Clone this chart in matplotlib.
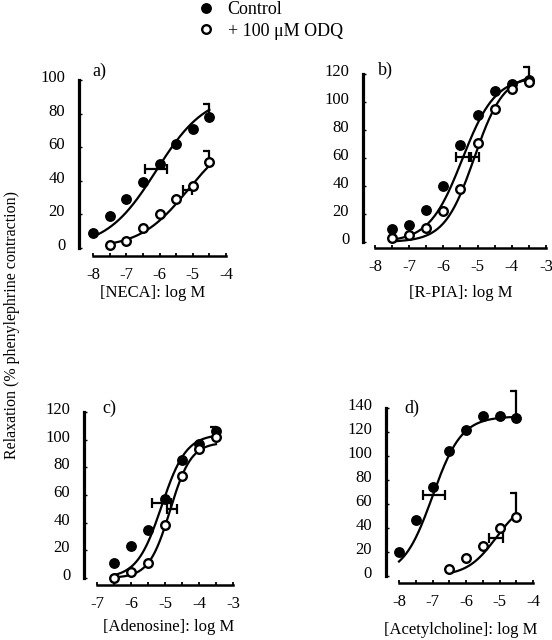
import numpy as np
import matplotlib
matplotlib.use('Agg')
import matplotlib.pyplot as plt
from matplotlib.lines import Line2D
from matplotlib.transforms import ScaledTranslation

plt.rcParams['font.family'] = ['Liberation Serif', 'DejaVu Serif']
plt.rcParams['axes.unicode_minus'] = False

# --- data ---
# a) NECA
neca_x = [-8, -7.5, -7, -6.5, -6, -5.5, -5, -4.5]
neca_ctrl = [9, 19, 29, 39, 50, 62, 71, 78]
neca_odq_x = [-7.5, -7, -6.5, -6, -5.5, -5, -4.5]
neca_odq = [2, 4, 12, 20, 29, 37, 51]
neca_err_top = [86, 58]                  # control, ODQ (last point)
neca_ec50 = [(-6.1, 0.33, 47), (-5.15, 0.14, 34.5)]
neca_fit = [(92, -6.1, 0.58), (69, -5.15, 0.6)]  # top, logEC50, hill

# b) R-PIA
rpia_x = [-7.5, -7, -6.5, -6, -5.5, -5, -4.5, -4, -3.5]
rpia_ctrl = [9, 12, 23, 40, 69, 91, 108, 113, 116]
rpia_odq = [3, 5, 10, 22, 38, 71, 95, 109, 114]
rpia_err_top = [125, None]
rpia_ec50 = [(-5.43, 0.19, 61), (-5.07, 0.12, 61)]
rpia_fit = [(118, -5.45, 0.9), (120, -5.1, 1.0)]

# c) Adenosine
ado_x = [-6.5, -6, -5.5, -5, -4.5, -4, -3.5]
ado_ctrl = [11, 23, 35, 57, 85, 97, 106]
ado_odq = [0, 4, 11, 38, 74, 93, 102]
ado_err_top = [109, None]
ado_ec50 = [(-5.1, 0.28, 54.5), (-4.8, 0.14, 50)]
ado_fit = [(104, -5.1, 1.2), (98, -4.85, 1.4)]

# d) Acetylcholine
ach_x = [-8, -7.5, -7, -6.5, -6, -5.5, -5, -4.5]
ach_ctrl = [20, 47, 74, 104, 122, 133, 133, 132]
ach_odq_x = [-6.5, -6, -5.5, -5, -4.5]
ach_odq = [6, 15, 25, 40, 49]
ach_err_top = [154, 69]
ach_ec50 = [(-6.95, 0.32, 67.5), (-5.1, 0.21, 32)]
ach_fit = [(133, -7.0, 1.0), (64, -5.1, 1.0)]

panel_labels = ['a)', 'b)', 'c)', 'd)']
x_labels = ['[NECA]: log M', '[R-PIA]: log M', '[Adenosine]: log M', '[Acetylcholine]: log M']
y_max = [100, 120, 120, 140]
x_bounds = [(-8, -4), (-8, -3), (-7, -3), (-8, -4)]

panels = [
    (neca_x, neca_ctrl, neca_odq_x, neca_odq, neca_err_top, neca_ec50, neca_fit),
    (rpia_x, rpia_ctrl, rpia_x, rpia_odq, rpia_err_top, rpia_ec50, rpia_fit),
    (ado_x, ado_ctrl, ado_x, ado_odq, ado_err_top, ado_ec50, ado_fit),
    (ach_x, ach_ctrl, ach_odq_x, ach_odq, ach_err_top, ach_ec50, ach_fit),
]

# pixel layout: x ref value, its pixel, px per unit, y=0 pixel, px per unit,
# y-spine x (data), x-spine y (data), xlabel centre/y in px, panel label px
W, H = 552, 640
layout = [
    (-8, 93, 33.25, 248, 1.68, -8.42, -4.8, 153, 293, (92, 71)),
    (-8, 375, 34.2, 242, 1.40, -8.35, -4.3, 461, 293, (378, 70)),
    (-7, 97, 34.0, 578, 1.383, -7.38, -5.1, 169, 627, (102, 408)),
    (-8, 399, 33.5, 576, 1.20, -8.39, -5.8, 461, 630, (404, 408)),
]

fig = plt.figure(figsize=(W / 100, H / 100), dpi=100)
label_shift = ScaledTranslation(0, 4 / 100, fig.dpi_scale_trans)


def hill(x, top, ec50, n):
    return top / (1 + 10 ** (n * (ec50 - x)))


for i, (data, lay) in enumerate(zip(panels, layout)):
    cx, cy, ox, oy, err_top, ec50, fit = data
    xref, pxref, sx, py0, sy, yspine_x, xspine_y, xl_cx, xl_y, lab = lay
    xlim = (x_bounds[i][0] - 0.7, x_bounds[i][1] + 0.25)
    ylim = (-12, y_max[i] * 1.15)
    left = pxref + (xlim[0] - xref) * sx
    right = pxref + (xlim[1] - xref) * sx
    bottom = py0 - ylim[0] * sy
    top = py0 - ylim[1] * sy
    ax = fig.add_axes([left / W, 1 - bottom / H, (right - left) / W, (bottom - top) / H])
    ax.set_xlim(xlim)
    ax.set_ylim(ylim)
    ax.patch.set_alpha(0)

    for s in ['top', 'right']:
        ax.spines[s].set_visible(False)
    ax.spines['left'].set_position(('data', yspine_x))
    ax.spines['left'].set_bounds(0, y_max[i])
    ax.spines['left'].set_linewidth(2.3)
    ax.spines['bottom'].set_position(('data', xspine_y))
    ax.spines['bottom'].set_bounds(*x_bounds[i])
    ax.spines['bottom'].set_linewidth(1.8)

    ax.set_yticks(np.arange(0, y_max[i] + 1, 20))
    ax.set_xticks(np.arange(x_bounds[i][0], x_bounds[i][1] + 0.5, 1))
    ax.set_xticks(np.arange(x_bounds[i][0], x_bounds[i][1] + 0.25, 0.5), minor=True)
    ax.tick_params(axis='y', direction='in', length=2.5, width=1, pad=10, labelsize=12)
    ax.tick_params(axis='x', which='both', direction='in', length=2.5, width=1.3, pad=8, labelsize=12)
    for t in ax.get_yticklabels():
        t.set_transform(t.get_transform() + label_shift)

    # fitted curves
    for xs, f in [(cx, fit[0]), (ox, fit[1])]:
        xx = np.linspace(xs[0], xs[-1], 200)
        ax.plot(xx, hill(xx, *f), color='black', lw=1.6, zorder=2, clip_on=False)

    # SEM of last point: "]" shaped bar
    for xs, ys, et in [(cx, cy, err_top[0]), (ox, oy, err_top[1])]:
        if et is None:
            continue
        ax.plot([xs[-1], xs[-1]], [ys[-1], et], color='black', lw=1.6, zorder=3, clip_on=False)
        ax.plot(xs[-1], et, marker=[(-1, 0), (0, 0)], ms=9, mew=1.6, color='black', clip_on=False)

    # EC50 with horizontal error bars
    for xc, half, ye in ec50:
        ax.errorbar(xc, ye, xerr=half, fmt='none', ecolor='black', elinewidth=1.6,
                    capsize=3.5, capthick=1.6, zorder=3, clip_on=False)

    ax.plot(cx, cy, 'o', color='black', ms=6.8, zorder=4, clip_on=False)
    ax.plot(ox, oy, 'o', mfc='white', mec='black', ms=6.2, mew=1.7, zorder=5, clip_on=False)

    fig.text(xl_cx / W, 1 - xl_y / H, x_labels[i], ha='center', va='center', fontsize=12)
    fig.text(lab[0] / W, 1 - lab[1] / H, panel_labels[i], ha='left', va='center', fontsize=13)

fig.text(12 / W, 1 - 325 / H, 'Relaxation (% phenylephrine contraction)', rotation=90,
         ha='center', va='center', fontsize=11.5)

handles = [
    Line2D([], [], ls='none', marker='o', color='black', ms=6.8),
    Line2D([], [], ls='none', marker='o', mfc='white', mec='black', ms=6.2, mew=1.7),
]
fig.legend(handles, ['Control', '+ 100 \u03bcM ODQ'], loc='upper left',
           bbox_to_anchor=(197 / W, 1 - 1 / H), frameon=False, fontsize=13,
           handlelength=1.0, handletextpad=0.7, labelspacing=0.25, borderpad=0, borderaxespad=0)

fig.savefig('out.png', dpi=100)
